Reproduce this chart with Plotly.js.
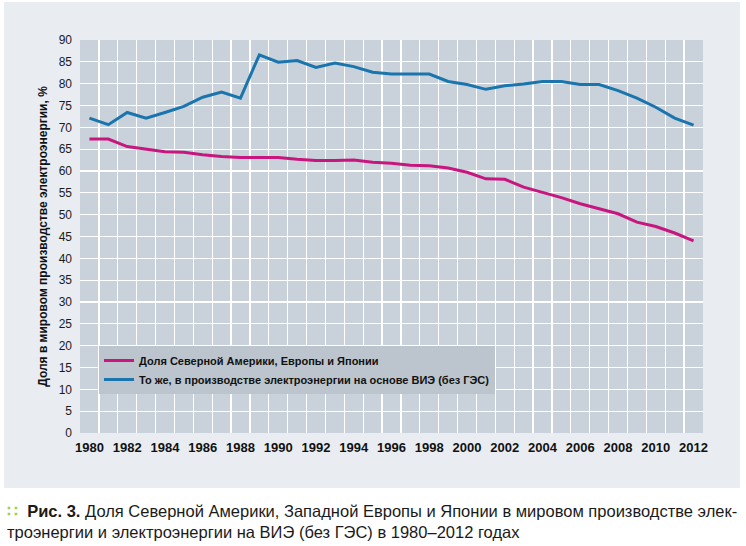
<!DOCTYPE html>
<html>
<head>
<meta charset="utf-8">
<script src="https://cdn.plot.ly/plotly-3.0.1.min.js"></script>
<style>
html,body{margin:0;padding:0;background:#fff;}
#chart{width:746px;height:546px;}
</style>
</head>
<body>
<div id="chart"></div>
<script>
var years = [1980,1981,1982,1983,1984,1985,1986,1987,1988,1989,1990,1991,1992,1993,1994,1995,1996,1997,1998,1999,2000,2001,2002,2003,2004,2005,2006,2007,2008,2009,2010,2011,2012];
var shareTotal = [67.3,67.3,65.6,65.0,64.4,64.3,63.7,63.3,63.1,63.1,63.1,62.7,62.4,62.4,62.5,62.0,61.8,61.3,61.2,60.7,59.7,58.2,58.1,56.3,55.1,53.9,52.5,51.3,50.2,48.3,47.3,45.8,44.0];
var shareRenewable = [72.1,70.6,73.4,72.1,73.4,74.8,76.9,78.1,76.7,86.6,84.9,85.3,83.7,84.7,83.9,82.6,82.2,82.2,82.2,80.5,79.8,78.7,79.5,79.9,80.5,80.5,79.8,79.8,78.4,76.7,74.6,72.1,70.5];
var seriesNames = ['Доля Северной Америки, Европы и Японии','То же, в производстве электроэнергии на основе ВИЭ (без ГЭС)'];
var xTickVals = [1980,1982,1984,1986,1988,1990,1992,1994,1996,1998,2000,2002,2004,2006,2008,2010,2012];
var yTitle = 'Доля в мировом производстве электроэнергии, %';
var captionBold = 'Рис. 3.';
var captionLine1 = ' Доля Северной Америки, Западной Европы и Японии в мировом производстве элек-';
var captionLine2 = 'троэнергии и электроэнергии на ВИЭ (без ГЭС) в 1980–2012 годах';

var FONT = '"Liberation Sans", Arial, sans-serif';
var W = 746, H = 546, ML = 80, MR = 43, MT = 40, MB = 113;
var PW = W - ML - MR, PH = H - MT - MB;
function px2x(p){ return (p - ML) / PW; }
function py2y(p){ return (H - MB - p) / PH; }

var traces = [
  {x: years, y: shareTotal, name: seriesNames[0], type: 'scatter', mode: 'lines',
   line: {color: '#c8167f', width: 3}},
  {x: years, y: shareRenewable, name: seriesNames[1], type: 'scatter', mode: 'lines',
   line: {color: '#1a74ad', width: 3}}
];

var layout = {
  width: W, height: H,
  margin: {l: ML, r: MR, t: MT, b: MB, pad: 0},
  paper_bgcolor: '#ffffff',
  plot_bgcolor: 'rgba(0,0,0,0)',
  font: {family: FONT, color: '#1a1a1a'},
  showlegend: true,
  legend: {
    x: px2x(99), y: py2y(346), xanchor: 'left', yanchor: 'top',
    bgcolor: '#bcc5ce', borderwidth: 0,
    font: {family: FONT, size: 11, color: '#111', weight: 'bold'},
    itemwidth: 30, tracegroupgap: 0, traceorder: 'normal'
  },
  xaxis: {
    range: [1979.5, 2012.5], tickmode: 'array', tickvals: xTickVals, tickangle: 0,
    showgrid: false, zeroline: false, showline: false, ticks: '', ticklabelstandoff: 5,
    tickfont: {family: FONT, size: 13, color: '#111', weight: 'bold'},
    minor: {tick0: 1979.5, dtick: 1, showgrid: true, gridcolor: '#ffffff', gridwidth: 1.3, ticks: ''},
    fixedrange: true
  },
  yaxis: {
    range: [0, 90], dtick: 5, tick0: 0,
    showgrid: true, gridcolor: '#ffffff', gridwidth: 1.3,
    zeroline: false, showline: false, ticks: '', ticklabelstandoff: 7,
    tickfont: {family: FONT, size: 12, color: '#1a1a1a'},
    title: {text: yTitle, standoff: 8, font: {family: FONT, size: 12, color: '#111', weight: 'bold'}},
    fixedrange: true
  },
  shapes: [
    {type: 'rect', xref: 'paper', yref: 'paper', layer: 'below',
     x0: px2x(4), x1: px2x(740), y0: py2y(488), y1: py2y(2),
     fillcolor: '#e9edf1', line: {width: 0}},
    {type: 'rect', xref: 'paper', yref: 'paper', layer: 'below',
     x0: 0, x1: 1, y0: 0, y1: 1,
     fillcolor: '#c9d2da', line: {width: 0}}
  ],
  annotations: [
    {xref: 'paper', yref: 'paper', x: px2x(5), y: py2y(500), xanchor: 'left', yanchor: 'top',
     align: 'left', showarrow: false,
     font: {family: FONT, size: 16.5, color: '#1a1a1a'},
     text: '<span style="color:#9fcf4a"><b>∷</b></span>  <b>' + captionBold + '</b>' + captionLine1 + '<br>' + captionLine2}
  ]
};

Plotly.newPlot('chart', traces, layout, {displayModeBar: false, staticPlot: true});
</script>
</body>
</html>
